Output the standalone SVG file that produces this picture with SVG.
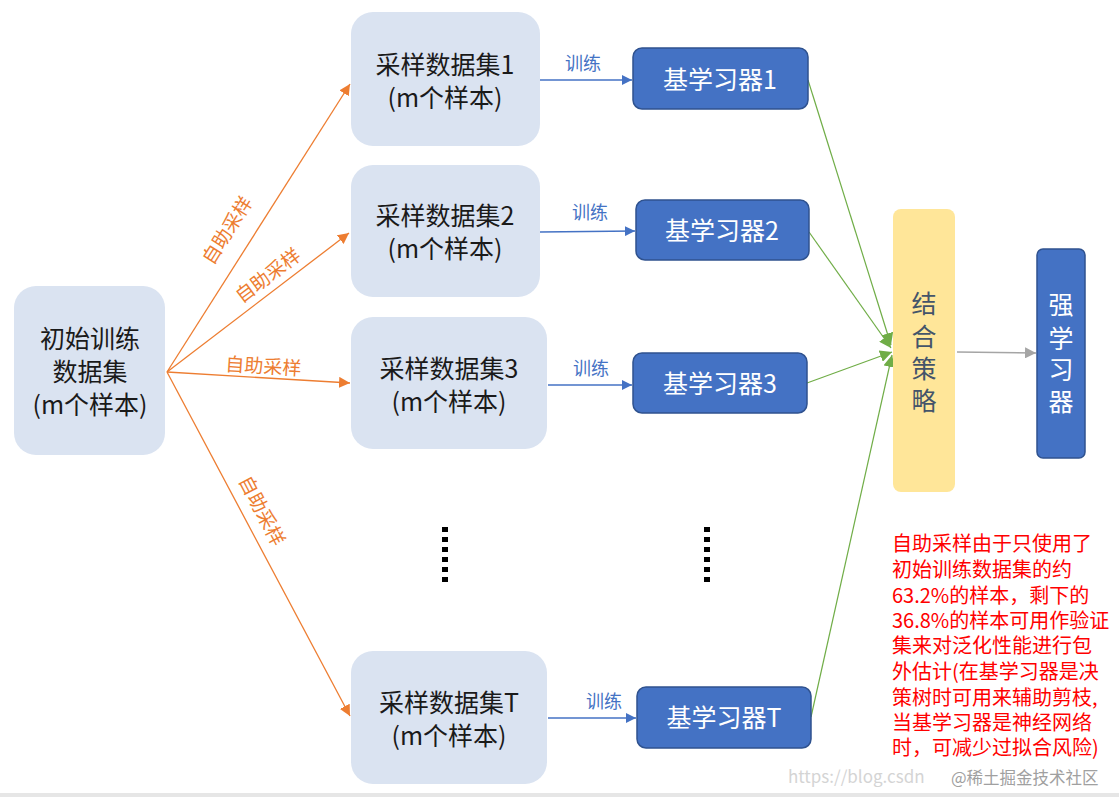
<svg xmlns="http://www.w3.org/2000/svg" width="1119" height="797" viewBox="0 0 1119 797">
<defs>
<style>
text{font-family:"Microsoft YaHei","Noto Sans CJK SC","Liberation Sans",sans-serif;}
.ds{fill:#dae3f1;}
.bl{fill:#4472c4;stroke:#2f528f;stroke-width:1.5;}
.dk{fill:#1a1a1a;font-size:25px;text-anchor:middle;}
.wt{fill:#ffffff;font-size:25px;text-anchor:middle;}
.or{fill:#ed7d31;font-size:19px;text-anchor:middle;}
.tr{fill:#4472c4;font-size:18px;text-anchor:middle;}
.red{fill:#ff0000;font-size:20px;}
.lo{stroke:#ed7d31;stroke-width:1.3;fill:none;marker-end:url(#ao);}
.lb{stroke:#4472c4;stroke-width:1.3;fill:none;marker-end:url(#ab);}
.lg{stroke:#70ad47;stroke-width:1.2;fill:none;marker-end:url(#ag);}
.lgr{stroke:#a5a5a5;stroke-width:1.3;fill:none;marker-end:url(#agr);}
.dot{fill:#000;}
</style>
<marker id="ao" viewBox="0 0 10 10" refX="10" refY="5" markerWidth="11" markerHeight="11" markerUnits="userSpaceOnUse" orient="auto"><path d="M0,0L10,5L0,10z" fill="#ed7d31"/></marker>
<marker id="ab" viewBox="0 0 10 10" refX="10" refY="5" markerWidth="10" markerHeight="10" markerUnits="userSpaceOnUse" orient="auto"><path d="M0,0L10,5L0,10z" fill="#4472c4"/></marker>
<marker id="ag" viewBox="0 0 10 10" refX="10" refY="5" markerWidth="12" markerHeight="12" markerUnits="userSpaceOnUse" orient="auto"><path d="M0,0L10,5L0,10z" fill="#70ad47"/></marker>
<marker id="agr" viewBox="0 0 10 10" refX="10" refY="5" markerWidth="11" markerHeight="11" markerUnits="userSpaceOnUse" orient="auto"><path d="M0,0L10,5L0,10z" fill="#a5a5a5"/></marker>
</defs>
<rect width="1119" height="797" fill="#ffffff"/>
<rect x="0" y="793" width="1119" height="4" fill="#e6e6e6"/>

<g id="connectors">
<path class="lo" d="M167,372L350,84"/>
<path class="lo" d="M167,372L349,233"/>
<path class="lo" d="M167,372L350,383"/>
<path class="lo" d="M167,372L350,716"/>
<text class="or" transform="translate(233,234) rotate(-57.6)">自助采样</text>
<text class="or" transform="translate(272,281) rotate(-37)">自助采样</text>
<text class="or" transform="translate(263,373) rotate(3.5)">自助采样</text>
<text class="or" transform="translate(256,514) rotate(62.3)">自助采样</text>
<path class="lb" d="M540,80L632,80"/>
<path class="lb" d="M540,232L635,231"/>
<path class="lb" d="M548,385L632,385"/>
<path class="lb" d="M548,718L636,718"/>
<text class="tr" x="583" y="70">训练</text>
<text class="tr" x="590" y="219">训练</text>
<text class="tr" x="591" y="375">训练</text>
<text class="tr" x="604" y="708">训练</text>
<path class="lg" d="M808,80L891,345"/>
<path class="lg" d="M809,232L891,348"/>
<path class="lg" d="M807,383L892,352"/>
<path class="lg" d="M811,717L892,355"/>
<path class="lgr" d="M957,352L1036,353"/>
</g>

<g id="init">
<rect class="ds" x="14" y="286" width="151" height="169" rx="22"/>
<text class="dk"><tspan x="90" y="348">初始训练</tspan><tspan x="90" y="381">数据集</tspan><tspan x="90" y="414">(m个样本)</tspan></text>
</g>
<g id="s1">
<rect class="ds" x="351" y="12" width="189" height="134" rx="22"/>
<text class="dk"><tspan x="445" y="74">采样数据集1</tspan><tspan x="445" y="107">(m个样本)</tspan></text>
</g>
<g id="s2">
<rect class="ds" x="351" y="165" width="189" height="132" rx="22"/>
<text class="dk"><tspan x="445" y="225">采样数据集2</tspan><tspan x="445" y="258">(m个样本)</tspan></text>
</g>
<g id="s3">
<rect class="ds" x="351" y="317" width="196" height="132" rx="22"/>
<text class="dk"><tspan x="449" y="378">采样数据集3</tspan><tspan x="449" y="411">(m个样本)</tspan></text>
</g>
<g id="sT">
<rect class="ds" x="351" y="651" width="196" height="133" rx="22"/>
<text class="dk"><tspan x="449" y="712">采样数据集T</tspan><tspan x="449" y="745">(m个样本)</tspan></text>
</g>

<g id="b1">
<rect class="bl" x="633" y="48" width="175" height="61" rx="9"/>
<text class="wt" x="720" y="89">基学习器1</text>
</g>
<g id="b2">
<rect class="bl" x="636" y="200" width="173" height="60" rx="9"/>
<text class="wt" x="722" y="240">基学习器2</text>
</g>
<g id="b3">
<rect class="bl" x="633" y="353" width="174" height="60" rx="9"/>
<text class="wt" x="720" y="393">基学习器3</text>
</g>
<g id="bT">
<rect class="bl" x="637" y="687" width="174" height="61" rx="9"/>
<text class="wt" x="724" y="727">基学习器T</text>
</g>

<g id="dots">
<rect class="dot" x="442" y="527" width="6" height="5"/>
<rect class="dot" x="442" y="537" width="6" height="5"/>
<rect class="dot" x="442" y="547" width="6" height="5"/>
<rect class="dot" x="442" y="557" width="6" height="5"/>
<rect class="dot" x="442" y="567" width="6" height="5"/>
<rect class="dot" x="442" y="577" width="6" height="5"/>
<rect class="dot" x="704" y="527" width="6" height="5"/>
<rect class="dot" x="704" y="537" width="6" height="5"/>
<rect class="dot" x="704" y="547" width="6" height="5"/>
<rect class="dot" x="704" y="557" width="6" height="5"/>
<rect class="dot" x="704" y="567" width="6" height="5"/>
<rect class="dot" x="704" y="577" width="6" height="5"/>
</g>

<g id="combine">
<rect x="893" y="209" width="62" height="283" rx="8" fill="#ffe699"/>
<text font-size="25" fill="#44546a" text-anchor="middle"><tspan x="924" y="313">结</tspan><tspan x="924" y="346">合</tspan><tspan x="924" y="378">策</tspan><tspan x="924" y="410">略</tspan></text>
</g>
<g id="strong">
<rect class="bl" x="1037" y="249" width="48" height="209" rx="6"/>
<text font-size="25" fill="#ffffff" text-anchor="middle"><tspan x="1061" y="314">强</tspan><tspan x="1061" y="348">学</tspan><tspan x="1061" y="379">习</tspan><tspan x="1061" y="411">器</tspan></text>
</g>

<g id="note">
<text class="red"><tspan x="892" y="551">自助采样由于只使用了</tspan><tspan x="892" y="577">初始训练数据集的约</tspan><tspan x="892" y="603">63.2%的样本，剩下的</tspan><tspan x="892" y="628">36.8%的样本可用作验证</tspan><tspan x="892" y="653">集来对泛化性能进行包</tspan><tspan x="892" y="679">外估计(在基学习器是决</tspan><tspan x="892" y="705">策树时可用来辅助剪枝,</tspan><tspan x="892" y="730">当基学习器是神经网络</tspan><tspan x="892" y="755">时，可减少过拟合风险)</tspan></text>
</g>

<g id="watermark">
<text x="788" y="783" font-family="Liberation Mono, monospace" font-size="17" fill="#d4d4d4">https://blog.csdn</text>
<text x="951" y="784" font-size="16.5" fill="#a0a0a0">@稀土掘金技术社区</text>
</g>
</svg>
